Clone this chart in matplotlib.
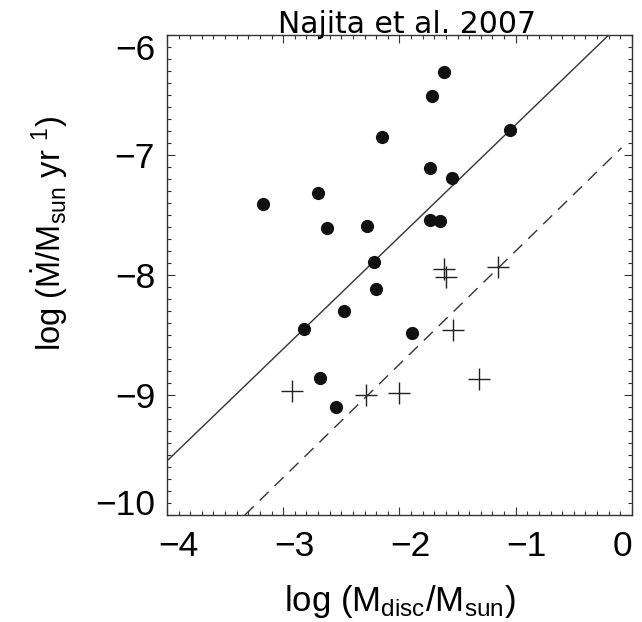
import matplotlib
matplotlib.use('Agg')
import matplotlib.pyplot as plt
from matplotlib.ticker import MultipleLocator
from matplotlib.transforms import ScaledTranslation

plt.rcParams['font.family'] = ['Liberation Sans', 'DejaVu Sans']
plt.rcParams['mathtext.fontset'] = 'custom'
plt.rcParams['mathtext.rm'] = 'Liberation Sans'
plt.rcParams['mathtext.it'] = 'Liberation Sans:italic'

# 有吸积的盘 (实心圆点)
disc_logm = [-1.62, -1.72, -2.15, -1.05, -1.74, -1.55, -3.17, -2.70, -2.62, -2.28,
             -1.74, -1.65, -2.22, -2.20, -2.48, -2.82, -1.89, -2.68, -2.55]
disc_logmdot = [-6.31, -6.51, -6.85, -6.79, -7.11, -7.19, -7.41, -7.32, -7.61, -7.59,
                -7.54, -7.55, -7.89, -8.12, -8.30, -8.45, -8.48, -8.86, -9.10]

# 上限 (十字)
lim_logm = [-1.62, -1.60, -1.15, -1.54, -1.32, -2.92, -2.29, -2.00]
lim_logmdot = [-7.95, -8.02, -7.93, -8.46, -8.87, -8.97, -9.00, -8.98]

# 拟合线端点
fit_x = [-4.0, -0.20]
fit_y = [-9.55, -6.0]
fit2_x = [-3.33, -0.09]
fit2_y = [-10.0, -6.94]

xticks = [-4, -3, -2, -1, 0]
yticks = [-10, -9, -8, -7, -6]

fig = plt.figure(figsize=(6.42, 6.22), dpi=100)
ax = fig.add_axes([0.260, 0.172, 0.7244, 0.7717])

ax.plot(fit_x, fit_y, color='#333333', linewidth=1.0)
ax.plot(fit2_x, fit2_y, color='#333333', linewidth=1.0, linestyle=(0, (9, 6)))
ax.plot(disc_logm, disc_logmdot, 'o', color='#111111', markersize=9.5, markeredgewidth=0)
ax.plot(lim_logm, lim_logmdot, '+', color='#222222', markersize=16, markeredgewidth=1.0)

ax.set_xlim(-4, 0)
ax.set_ylim(-10, -6)
ax.set_xticks(xticks)
ax.set_yticks(yticks)
ax.xaxis.set_minor_locator(MultipleLocator(0.1))
ax.yaxis.set_minor_locator(MultipleLocator(0.1))
ax.tick_params(which='both', direction='in', top=True, right=True, width=0.8, color='#333333')
ax.tick_params(which='major', length=5.8, labelsize=25.5)
ax.tick_params(axis='x', which='major', pad=10.5)
ax.tick_params(axis='y', which='major', pad=8.5)
ax.tick_params(which='minor', length=2.8)
for s in ax.spines.values():
    s.set_linewidth(1.0)
    s.set_color('#333333')

# 刻度标签的偏移 (IDL 风格)
def shift(lbl, dx, dy):
    lbl.set_transform(lbl.get_transform() + ScaledTranslation(dx / 100, dy / 100, fig.dpi_scale_trans))

for t, v in zip(ax.xaxis.get_major_ticks(), xticks):
    shift(t.label1, 11 if v < 0 else -10, 0)
for t, v in zip(ax.yaxis.get_major_ticks(), yticks):
    if v == -10:
        shift(t.label1, 0, 13)
    elif v == -6:
        shift(t.label1, 0, -12)

ax.set_xlabel(r'log (M$_{\mathrm{disc}}$/M$_{\mathrm{sun}}$)', fontsize=25)
ax.set_ylabel(r'log ($\dot{\mathrm{M}}$/M$_{\mathrm{sun}}$ yr $^{1}$)', fontsize=23.5)
ax.xaxis.set_label_coords(0.5, -0.142)
ax.yaxis.set_label_coords(-0.209, 0.5875)

ax.text(0.516, 1.004, 'Najita et al. 2007', fontsize=21.5, family='DejaVu Sans',
        ha='center', va='baseline', transform=ax.transAxes)

fig.savefig('out.png', dpi=100)
